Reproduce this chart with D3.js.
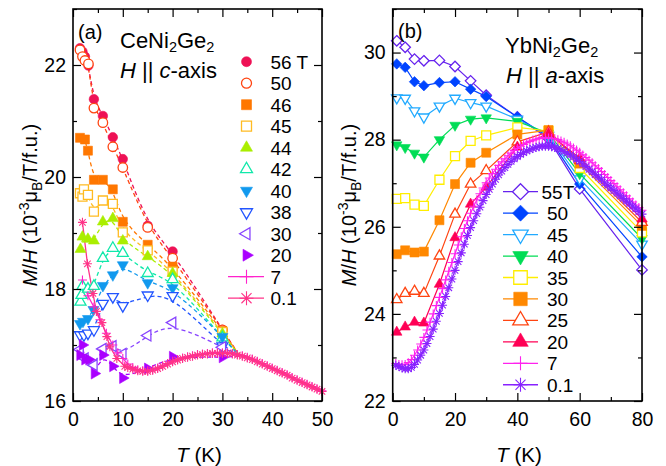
<!DOCTYPE html>
<html><head><meta charset="utf-8">
<script src="https://cdn.jsdelivr.net/npm/d3@7"></script>
<style>body{margin:0;background:#fff}svg{display:block}text{font-family:"Liberation Sans",Arial,sans-serif}</style>
</head><body><svg id="c" width="666" height="466"></svg>
<script>
// ---------------- Panel (a) CeNi2Ge2, H || c ----------------
const aLabels = ["56 T","50","46","45","44","42","40","38","30","20","7","0.1"];
const aT56 = [1.4,1.9,2.4,3.1,4.2,6,8,10,15,20,30];
const aM56 = [22.30,22.24,22.15,21.99,21.39,21.09,20.71,20.32,19.13,18.67,17.27];
const aT50 = [1.4,1.9,2.4,3.1,4.2,6,8,10,15,20,30];
const aM50 = [22.27,22.15,22.08,22.02,21.23,20.97,20.54,20.17,19.10,18.55,17.27];
const aT46 = [1.4,2.4,3,4.2,6,8,10,15,20,30];
const aM46 = [20.70,20.67,20.47,19.95,19.95,19.78,19.20,18.79,18.40,17.25];
const aT45 = [1.4,1.9,2.2,3,4.2,6,8,10,15,20,30];
const aM45 = [19.71,19.65,19.78,19.68,19.38,19.58,19.52,19.01,18.69,18.31,17.23];
const aT44 = [1.5,1.9,3,4.2,6,8,10,15,20,30];
const aM44 = [18.71,18.93,18.89,18.86,19.20,19.26,18.86,18.58,18.28,17.20];
const aT42 = [1.5,1.7,1.9,3,4.2,6,8,10,15,20,30];
const aM42 = [17.77,17.89,18.05,18.00,18.05,18.55,18.73,18.64,18.28,18.17,17.13];
const aT40 = [1.4,2.0,3,4.1,6,8,10,15,20,30];
const aM40 = [17.38,17.42,17.47,17.63,18.06,18.25,18.43,18.11,18.02,17.15];
const aT38 = [1.4,2.2,3,4.2,6,8,10,15,20,30];
const aM38 = [17.18,17.18,17.21,17.27,17.74,17.86,17.70,17.89,17.88,16.98];
const aT30 = [1.4,2.4,4.2,6,8,10,15,20,30];
const aM30 = [16.92,16.76,16.64,16.93,16.98,16.84,17.17,17.40,16.96];
const aT20 = [1.4,1.9,2.4,3.2,4.3,6,8,10,15,20,30];
const aM20 = [16.82,17.00,16.74,16.74,16.49,16.82,16.62,16.41,16.58,16.79,16.78];
// where the dashed guides of panel (a) run into the low-field curve
const aGuideEnd = [33.5, 16.80];
const aT7 = [1.9,3,4.2,5.4,6.7,8,9,10].concat(d3.range(11,51));
const aM7 = [18.16,17.88,17.68,17.45,17.21,17.00,16.86,16.76,
  16.66,16.60,16.56,16.54,16.54,16.56,16.59,16.63,16.67,16.71,16.74,16.77,16.79,16.81,16.83,16.84,16.85,16.86,16.86,16.86,
  16.86,16.85,16.83,16.81,16.78,16.75,16.71,16.67,16.63,16.59,16.55,16.51,16.47,16.42,16.38,16.34,16.30,16.26,16.22,16.18];
const aT01 = [1.9,2.9,4,4.7,5.8,6.8,7.4,8.8,10.4].concat(d3.range(11,51));
const aM01 = [19.19,18.45,17.92,17.60,17.40,17.15,16.97,16.76,16.62,
  16.60,16.57,16.54,16.53,16.53,16.55,16.58,16.62,16.66,16.70,16.73,16.76,16.78,16.80,16.82,16.83,16.84,16.85,16.85,16.85,
  16.85,16.84,16.82,16.80,16.77,16.74,16.70,16.66,16.62,16.58,16.54,16.50,16.46,16.41,16.37,16.33,16.29,16.25,16.21,16.17];
const aColors = ["#ee1155","#ff4411","#ff7700","#ffbb22","#aaee00","#11e8aa","#1199ee","#2255ff","#8844ff","#aa00ff","#ff22cc","#ff3388"];
const aShapes = ["circle","circle","square","square","triUp","triUp","triDown","triDown","triLeft","triRight","plus","star"];
const aOpen   = [false,true,false,true,false,true,false,true,true,false,false,false];

// ---------------- Panel (b) YbNi2Ge2, H || a ----------------
const bLabels = ["55T","50","45","40","35","30","25","20","7","0.1"];
const bT = [1.3,4,7,10,15,20,25,30,40,50,60,80];
const bM55 = [30.27,30.12,29.85,29.81,29.82,29.68,29.35,29.02,28.52,28.02,26.87,25.01];
const bM50 = [29.74,29.66,29.33,29.24,29.31,29.33,29.16,28.99,28.52,28.06,26.98,25.31];
const bM45 = [28.96,28.95,28.66,28.52,28.77,28.95,28.85,28.77,28.47,28.10,27.10,25.60];
const bM40 = [27.88,27.82,27.69,27.60,28.00,28.33,28.47,28.50,28.42,28.15,27.22,25.73];
const bM35 = [26.64,26.66,26.51,26.48,27.08,27.62,27.97,28.10,28.28,28.20,27.35,25.87];
const bM30 = [25.37,25.46,25.41,25.43,26.15,26.98,27.47,27.70,28.12,28.22,27.45,26.02];
const bM25 = [24.33,24.47,24.52,24.47,25.33,26.29,26.98,27.29,27.95,28.18,27.52,26.10];
const bM20 = [23.58,23.70,23.81,23.79,24.68,25.75,26.52,26.91,27.83,28.14,27.58,26.18];
const bTdense = d3.range(1,81);
const bM7 = [22.86,22.84,22.83,22.84,22.88,22.95,23.05,23.17,23.31,23.46,23.63,23.81,24.00,24.19,24.38,24.58,24.78,24.98,25.18,25.38,
  25.58,25.77,25.96,26.14,26.31,26.47,26.62,26.76,26.89,27.01,27.12,27.22,27.32,27.41,27.49,27.56,27.63,27.69,27.75,27.80,
  27.85,27.89,27.93,27.96,27.99,28.01,28.03,28.04,28.04,28.04,28.03,28.02,28.00,27.97,27.94,27.90,27.86,27.81,27.76,27.71,
  27.65,27.59,27.53,27.47,27.40,27.34,27.27,27.20,27.13,27.06,26.99,26.92,26.85,26.78,26.71,26.64,26.57,26.50,26.44,26.38];
const bM01 = [22.82,22.79,22.76,22.74,22.74,22.77,22.84,22.94,23.05,23.17,23.32,23.48,23.65,23.83,24.01,24.20,24.40,24.60,24.80,25.00,
  25.20,25.40,25.60,25.80,25.98,26.14,26.30,26.45,26.60,26.74,26.86,26.98,27.09,27.19,27.28,27.36,27.43,27.50,27.56,27.61,
  27.66,27.70,27.74,27.77,27.80,27.82,27.84,27.85,27.85,27.85,27.84,27.82,27.80,27.77,27.73,27.69,27.65,27.60,27.55,27.50,
  27.44,27.38,27.32,27.26,27.20,27.14,27.08,27.01,26.95,26.89,26.83,26.77,26.71,26.65,26.59,26.53,26.47,26.41,26.35,26.29];
const bColors = ["#6622ee","#0044ff","#22aaff","#00dd55","#ffee00","#ff8800","#ff4411","#ff0055","#ff22ee","#8822ff"];
const bShapes = ["diamond","diamond","triDown","triDown","square","square","triUp","triUp","plus","star"];
const bOpen   = [true,false,true,false,true,false,true,false,false,false];

const aTicksMajX=[0,10,20,30,40,50], aTicksMinX=[5,15,25,35,45];
const aTicksMajY=[16,18,20,22], aTicksMinY=[17,19,21,23];
const bTicksMajX=[0,20,40,60,80], bTicksMinX=[10,30,50,70];
const bTicksMajY=[22,24,26,28,30], bTicksMinY=[23,25,27,29,31];

// ---------------- drawing ----------------
const svg = d3.select("#c");
const FS = 19.5;

function markerPath(type, s){
  const r=s/2;
  switch(type){
    case "circle": return `M${r},0A${r},${r} 0 1,1 ${-r},0A${r},${r} 0 1,1 ${r},0Z`;
    case "square": return `M${-r},${-r}H${r}V${r}H${-r}Z`;
    case "diamond": return `M0,${-r}L${r},0L0,${r}L${-r},0Z`;
    case "triUp": return `M0,${-0.577*s}L${r},${0.289*s}L${-r},${0.289*s}Z`;
    case "triDown": return `M0,${0.577*s}L${r},${-0.289*s}L${-r},${-0.289*s}Z`;
    case "triLeft": return `M${-0.577*s},0L${0.289*s},${-r}L${0.289*s},${r}Z`;
    case "triRight": return `M${0.577*s},0L${-0.289*s},${-r}L${-0.289*s},${r}Z`;
    case "plus": return `M${-r},0H${r}M0,${-r}V${r}`;
    case "star": {const k=r*0.72; return `M${-r},0H${r}M0,${-r}V${r}M${-k},${-k}L${k},${k}M${-k},${k}L${k},${-k}`;}
  }
}
function drawMarkers(g, pts, type, color, open, s){
  const lineType = (type==="plus"||type==="star");
  g.selectAll(null).data(pts).join("path")
    .attr("transform", d=>`translate(${d[0]},${d[1]})`)
    .attr("d", markerPath(type,s))
    .attr("fill", lineType ? "none" : (open ? "#fff" : color))
    .attr("stroke", color)
    .attr("stroke-width", lineType ? 1.1 : (open ? 1.3 : 0.6));
}

function frame(x, y, xMaj, xMin, yMaj, yMin){
  const g = svg.append("g");
  const [x0,x1]=x.range(), [y0,y1]=y.range();
  const style = sel => { sel.select(".domain").remove(); sel.selectAll("line").attr("stroke","#000").attr("stroke-width",1.2);
    sel.selectAll("text").attr("font-size",FS).attr("fill","#000").attr("font-family",'"Liberation Sans",Arial,sans-serif'); sel.attr("font-size",null).attr("font-family",null); };
  g.append("g").attr("transform",`translate(0,${y0})`).call(d3.axisBottom(x).tickValues(xMaj).tickSize(-8).tickPadding(11).tickFormat(d3.format("d"))).call(style);
  g.append("g").attr("transform",`translate(0,${y0})`).call(d3.axisBottom(x).tickValues(xMin).tickSize(-4).tickFormat("")).call(style);
  g.append("g").attr("transform",`translate(0,${y1})`).call(d3.axisTop(x).tickValues(xMaj).tickSize(-8).tickFormat("")).call(style);
  g.append("g").attr("transform",`translate(0,${y1})`).call(d3.axisTop(x).tickValues(xMin).tickSize(-4).tickFormat("")).call(style);
  g.append("g").attr("transform",`translate(${x0},0)`).call(d3.axisLeft(y).tickValues(yMaj).tickSize(-8).tickPadding(7).tickFormat(d3.format("d"))).call(style);
  g.append("g").attr("transform",`translate(${x0},0)`).call(d3.axisLeft(y).tickValues(yMin).tickSize(-4).tickFormat("")).call(style);
  g.append("g").attr("transform",`translate(${x1},0)`).call(d3.axisRight(y).tickValues(yMaj).tickSize(-8).tickFormat("")).call(style);
  g.append("g").attr("transform",`translate(${x1},0)`).call(d3.axisRight(y).tickValues(yMin).tickSize(-4).tickFormat("")).call(style);
  g.append("rect").attr("x",x0).attr("y",y1).attr("width",x1-x0).attr("height",y0-y1)
    .attr("fill","none").attr("stroke","#000").attr("stroke-width",1.6);
}

function yLabel(xpos, ycen){
  const t = svg.append("text").attr("transform",`translate(${xpos},${ycen}) rotate(-90)`)
    .attr("text-anchor","middle").attr("font-size",20);
  t.append("tspan").attr("font-style","italic").text("M");
  t.append("tspan").text("/");
  t.append("tspan").attr("font-style","italic").text("H");
  t.append("tspan").text(" (10");
  t.append("tspan").attr("dy",-8).attr("font-size",14).text("-3");
  t.append("tspan").attr("dy",8).text("\u03bc");
  t.append("tspan").attr("dy",5).attr("font-size",14).text("B");
  t.append("tspan").attr("dy",-5).text("/T/f.u.)");
}
function xLabel(xc, yb){
  const t = svg.append("text").attr("x",xc).attr("y",yb).attr("text-anchor","middle").attr("font-size",20.5);
  t.append("tspan").attr("font-style","italic").text("T");
  t.append("tspan").text(" (K)");
}
function compound(x, y, parts){
  const t = svg.append("text").attr("x",x).attr("y",y).attr("font-size",22);
  parts.forEach(p=>{
    if(p.sub){ t.append("tspan").attr("baseline-shift","-4").attr("font-size",14.5).text(p.t); }
    else t.append("tspan").attr("font-style",p.it?"italic":null).text(p.t);
  });
}

// ----- panel a -----
const xa = d3.scaleLinear([0,50],[73,322]);
const ya = d3.scaleLinear([16,23],[401,9]);
const aSeries = [[aT56,aM56],[aT50,aM50],[aT46,aM46],[aT45,aM45],[aT44,aM44],[aT42,aM42],[aT40,aM40],[aT38,aM38],[aT30,aM30],[aT20,aM20],[aT7,aM7],[aT01,aM01]];
const ga = svg.append("g");
aSeries.forEach(([T,M],i)=>{
  const pts = T.map((t,j)=>[xa(t), ya(M[j])]);
  const solid = i>=10;
  if(!solid) pts.push([xa(aGuideEnd[0]), ya(aGuideEnd[1])]);
  ga.append("path").attr("d", d3.line().curve(solid? d3.curveLinear : d3.curveBasis)(pts))
    .attr("fill","none").attr("stroke",aColors[i]).attr("stroke-width",1.3)
    .attr("stroke-dasharray", solid? null : "4,3");
});
aSeries.forEach(([T,M],i)=>{
  const pts = T.map((t,j)=>[xa(t), ya(M[j])]);
  const s = aShapes[i]==="circle"?9.5: aShapes[i]==="square"?9: (aShapes[i]==="plus"||aShapes[i]==="star")?9:11;
  drawMarkers(ga.append("g"), pts, aShapes[i], aColors[i], aOpen[i], s);
});
frame(xa, ya, aTicksMajX, aTicksMinX, aTicksMajY, aTicksMinY);
// legend a
aLabels.forEach((lab,i)=>{
  const yy = 61.7 + i*21.5;
  const g = svg.append("g");
  if(i>=10) g.append("line").attr("x1",228).attr("x2",264).attr("y1",yy).attr("y2",yy).attr("stroke",aColors[i]).attr("stroke-width",1.3);
  const s = aShapes[i]==="circle"?10: aShapes[i]==="square"?10: (aShapes[i]==="plus"||aShapes[i]==="star")?14:12;
  drawMarkers(g, [[246.5,yy]], aShapes[i], aColors[i], aOpen[i], s);
  svg.append("text").attr("x",270.5).attr("y",yy+7).attr("font-size",19).text(lab);
});
svg.append("text").attr("x",78).attr("y",39).attr("font-size",20).text("(a)");
compound(120,48,[{t:"CeNi"},{t:"2",sub:1},{t:"Ge"},{t:"2",sub:1}]);
compound(120,78,[{t:"H",it:1},{t:" || "},{t:"c",it:1},{t:"-axis"}]);
yLabel(37,205);
xLabel(199,462);

// ----- panel b -----
const xb = d3.scaleLinear([0,80],[392.7,642]);
const yb = d3.scaleLinear([22,31],[401,9]);
const bSeries = [[bT,bM55],[bT,bM50],[bT,bM45],[bT,bM40],[bT,bM35],[bT,bM30],[bT,bM25],[bT,bM20],[bTdense,bM7],[bTdense,bM01]];
const gb = svg.append("g");
bSeries.forEach(([T,M],i)=>{
  const pts = T.map((t,j)=>[xb(t), yb(M[j])]);
  gb.append("path").attr("d", d3.line()(pts)).attr("fill","none").attr("stroke",bColors[i]).attr("stroke-width",1.2);
  const s = bShapes[i]==="diamond"?10.5: bShapes[i]==="square"?9: (bShapes[i]==="plus"||bShapes[i]==="star")?9:10.5;
  drawMarkers(gb.append("g"), pts, bShapes[i], bColors[i], bOpen[i], s);
});
frame(xb, yb, bTicksMajX, bTicksMinX, bTicksMajY, bTicksMinY);
bLabels.forEach((lab,i)=>{
  const yy = 191.7 + i*21.45;
  const g = svg.append("g");
  g.append("line").attr("x1",503).attr("x2",538).attr("y1",yy).attr("y2",yy).attr("stroke",bColors[i]).attr("stroke-width",1.3);
  const s = bShapes[i]==="diamond"?16: bShapes[i]==="square"?13.5: (bShapes[i]==="plus"||bShapes[i]==="star")?14:15.5;
  drawMarkers(g, [[520.5,yy]], bShapes[i], bColors[i], bOpen[i], s);
  svg.append("text").attr("x", i===0?541.5:547).attr("y",yy+7).attr("font-size",19).text(lab);
});
svg.append("text").attr("x",398).attr("y",38).attr("font-size",20).text("(b)");
compound(505,52.5,[{t:"YbNi"},{t:"2",sub:1},{t:"Ge"},{t:"2",sub:1}]);
compound(506,83,[{t:"H",it:1},{t:" || "},{t:"a",it:1},{t:"-axis"}]);
yLabel(356,205);
xLabel(519,462);
</script></body></html>
